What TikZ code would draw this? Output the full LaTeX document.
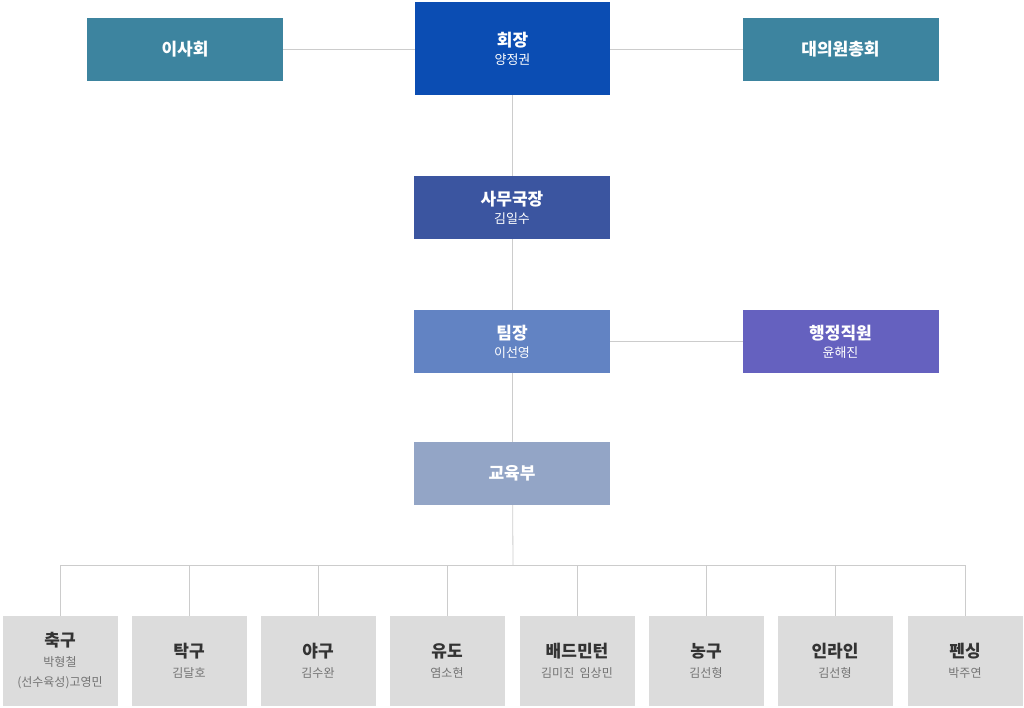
\documentclass[tikz,border=0pt]{standalone}
\usepackage{fontspec}
\setmainfont{Noto Sans CJK KR}
\definecolor{cTop}{HTML}{0B4DB3}
\definecolor{cTeal}{HTML}{3D849F}
\definecolor{cSec}{HTML}{3B55A0}
\definecolor{cTeam}{HTML}{6283C3}
\definecolor{cAdm}{HTML}{6561BF}
\definecolor{cEdu}{HTML}{93A5C6}
\definecolor{cGray}{HTML}{DCDCDC}
\definecolor{cLine}{HTML}{CCCCCC}
\newcommand{\mytt}[1]{{\bfseries\fontsize{17}{22}\selectfont #1}}
\newcommand{\mybt}[1]{{\bfseries\color{black!80}\fontsize{17}{22}\selectfont #1}}
\begin{document}
\begin{tikzpicture}[x=1pt,y=-1pt,
  box/.style={minimum width=196pt,minimum height=63pt,inner sep=0pt,text=white,align=center,font=\fontsize{13}{18}\selectfont},
  sbox/.style={fill=cGray,minimum width=115pt,minimum height=90pt,inner sep=0pt,align=center,text=black!55,font=\fontsize{12}{20}\selectfont},
  ln/.style={draw=cLine,line width=0.8pt}]
\useasboundingbox (0,0) rectangle (1024,708);
\coordinate (bl) at (60,565); \coordinate (br) at (965,565); \coordinate (bm) at (513,565);
\draw[ln] (185,49.5) -- (840.5,49.5);
\draw[ln] (512.5,48) -- (512.5,473);
\draw[ln] (512,341.5) -- (840,341.5);
\draw[ln] (512.5,473) -- (bm);
\draw[ln] (bl) -- (br);
\node[box,fill=cTop,minimum width=195pt,minimum height=93pt] (hj) at (512.5,48.5) {\mytt{회장}\\양정권};
\node[box,fill=cTeal] (ish) at (185,49.5) {\mytt{이사회}};
\node[box,fill=cTeal] (dw) at (840.5,49.5) {\mytt{대의원총회}};
\node[box,fill=cSec] (sm) at (512,207.5) {\mytt{사무국장}\\김일수};
\node[box,fill=cTeam] (tj) at (512,341.5) {\mytt{팀장}\\이선영};
\node[box,fill=cAdm] (hg) at (840.5,341.5) {\mytt{행정직원}\\윤해진};
\node[box,fill=cEdu] (ed) at (512,473.5) {\mytt{교육부}};
\foreach \x/\n/\t/\s in {60/a/축구/{박형철\\(선수육성)고영민},189/b/탁구/김달호,318/c/야구/김수완,447/d/유도/염소현,577/e/배드민턴/{김미진\ \ 임상민},706/f/농구/김선형,835/g/인라인/김선형,965/h/펜싱/박주연}{
  \draw[ln] (\x,565) -- (\x,616);
  \node[sbox] (s\n) at (\x,661) {\mybt{\t}\\\s};
}
\end{tikzpicture}
\end{document}
